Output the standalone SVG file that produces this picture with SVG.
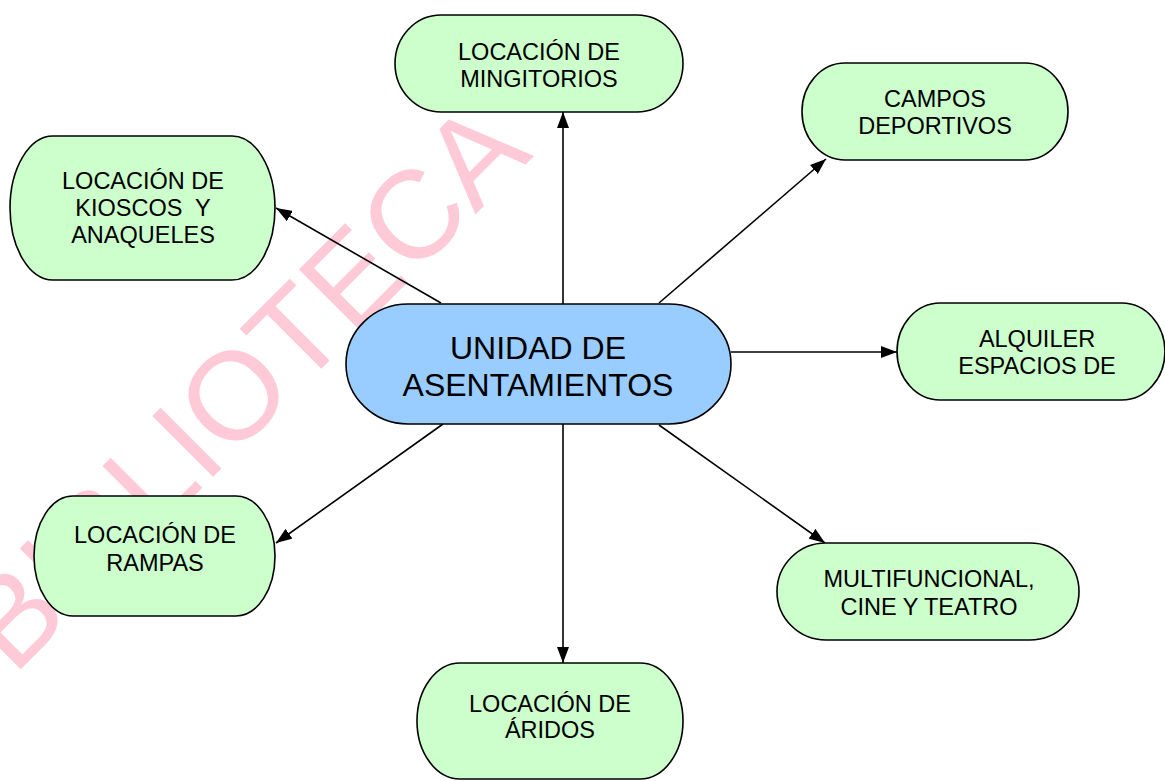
<svg xmlns="http://www.w3.org/2000/svg" width="1165" height="781" viewBox="0 0 1165 781">
  <style>
    .wm { font-family: "Liberation Sans", Arial, sans-serif; font-size: 125px; fill: #FFCAD8; }
    .node { fill: #CCFFCC; stroke: #000; stroke-width: 1.6; }
    .main { fill: #99CCFF; stroke: #000; stroke-width: 1.6; }
    .lbl { font-family: "Liberation Sans", Arial, sans-serif; font-size: 23.5px; fill: #000; text-anchor: middle; }
    .big { font-family: "Liberation Sans", Arial, sans-serif; font-size: 32px; fill: #000; text-anchor: middle; }
    .edge { stroke: #000; stroke-width: 1.6; fill: none; marker-end: url(#arrow); }
  </style>
  <defs>
    <marker id="arrow" viewBox="0 0 16 12" refX="16" refY="6" markerWidth="16" markerHeight="12" markerUnits="userSpaceOnUse" orient="auto">
      <path d="M0,0 L16,6 L0,12 Z" fill="#000"/>
    </marker>
  </defs>
  <rect width="1165" height="781" fill="#fff"/>

  <g id="watermark">
    <text class="wm" transform="translate(13.5,676.5) rotate(-45)">BIBLIOTECA</text>
  </g>

  <g id="connectors">
    <line class="edge" x1="563" y1="304" x2="563" y2="112"/>
    <line class="edge" x1="563" y1="424" x2="563" y2="663"/>
    <line class="edge" x1="731" y1="352" x2="897" y2="352"/>
    <line class="edge" x1="441" y1="303" x2="276" y2="208"/>
    <line class="edge" x1="659" y1="303" x2="826" y2="159"/>
    <line class="edge" x1="443" y1="424" x2="276" y2="543"/>
    <line class="edge" x1="659" y1="425" x2="825" y2="543"/>
  </g>

  <g id="n-mingitorios">
    <path class="node" d="M441,15 H637 A46,48.5 0 0 1 637,112 H441 A46,48.5 0 0 1 441,15 Z"/>
    <text class="lbl"><tspan x="539" y="60">LOCACIÓN DE</tspan><tspan x="539" y="87">MINGITORIOS</tspan></text>
  </g>

  <g id="n-campos">
    <path class="node" d="M845,63 H1025 A43,48.5 0 0 1 1025,160 H845 A43,48.5 0 0 1 845,63 Z"/>
    <text class="lbl"><tspan x="935" y="107">CAMPOS</tspan><tspan x="935" y="134">DEPORTIVOS</tspan></text>
  </g>

  <g id="n-kioscos">
    <path class="node" d="M53,136 H232 A43,72 0 0 1 232,280 H53 A43,72 0 0 1 53,136 Z"/>
    <text class="lbl" xml:space="preserve"><tspan x="143" y="189">LOCACIÓN DE</tspan><tspan x="143" y="216">KIOSCOS  Y</tspan><tspan x="143" y="243">ANAQUELES</tspan></text>
  </g>

  <g id="n-unidad">
    <path class="main" d="M408,304 H669 A62,60 0 0 1 669,424 H408 A62,60 0 0 1 408,304 Z"/>
    <text class="big"><tspan x="538" y="359">UNIDAD DE</tspan><tspan x="538" y="396">ASENTAMIENTOS</tspan></text>
  </g>

  <g id="n-alquiler">
    <path class="node" d="M940,303 H1122 A43,48.5 0 0 1 1122,400 H940 A43,48.5 0 0 1 940,303 Z"/>
    <text class="lbl"><tspan x="1037" y="347">ALQUILER</tspan><tspan x="1037" y="374">ESPACIOS DE</tspan></text>
  </g>

  <g id="n-rampas">
    <path class="node" d="M73,496 H236 A39,60 0 0 1 236,616 H73 A39,60 0 0 1 73,496 Z"/>
    <text class="lbl"><tspan x="155" y="543">LOCACIÓN DE</tspan><tspan x="155" y="571">RAMPAS</tspan></text>
  </g>

  <g id="n-multifuncional">
    <path class="node" d="M826,543 H1030 A49,48.5 0 0 1 1030,640 H826 A49,48.5 0 0 1 826,543 Z"/>
    <text class="lbl"><tspan x="929" y="587">MULTIFUNCIONAL,</tspan><tspan x="929" y="615">CINE Y TEATRO</tspan></text>
  </g>

  <g id="n-aridos">
    <path class="node" d="M460,663 H640 A43,58 0 0 1 640,779 H460 A43,58 0 0 1 460,663 Z"/>
    <text class="lbl"><tspan x="550" y="712">LOCACIÓN DE</tspan><tspan x="550" y="738">ÁRIDOS</tspan></text>
  </g>
</svg>
